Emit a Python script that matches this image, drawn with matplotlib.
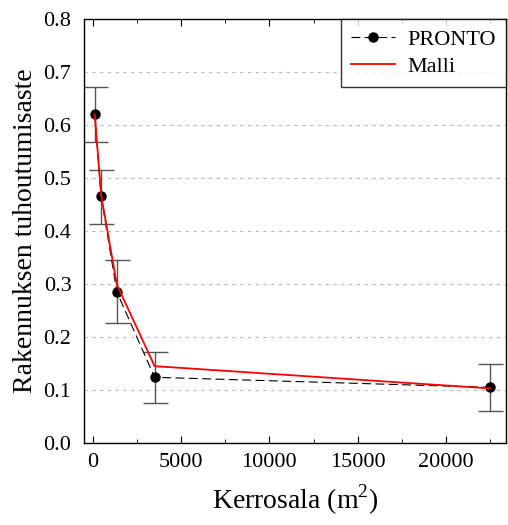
import matplotlib
matplotlib.use("Agg")
import matplotlib.pyplot as plt
from matplotlib.ticker import MultipleLocator

plt.rcParams['font.family'] = ['Liberation Serif', 'DejaVu Serif']
plt.rcParams['mathtext.fontset'] = 'custom'
plt.rcParams['mathtext.rm'] = 'Liberation Serif'

area = [110, 470, 1360, 3500, 22500]
pronto = [0.620, 0.466, 0.285, 0.124, 0.105]
err_low = [0.052, 0.053, 0.059, 0.048, 0.044]
err_high = [0.051, 0.050, 0.060, 0.047, 0.044]
model = [0.620, 0.468, 0.299, 0.145, 0.103]

fig = plt.figure(figsize=(5.08, 5.25), dpi=100)
ax = fig.add_axes([84/508, 1-443/525, (506-84)/508, (443-19)/525])

ax.errorbar(area, pronto, yerr=[err_low, err_high], fmt='none', ecolor='#555555',
            elinewidth=1.0, capsize=9, capthick=1.0, zorder=2)
ax.plot(area, pronto, color='black', linestyle=(0, (8, 4)), linewidth=0.8,
        marker='o', markersize=6.5, label='PRONTO', zorder=3)
ax.plot(area, model, color='red', linewidth=1.3, label='Malli', zorder=4)

ax.set_xlim(-500, 23400)
ax.set_ylim(0, 0.8)
ax.xaxis.set_major_locator(MultipleLocator(5000))
ax.xaxis.set_minor_locator(MultipleLocator(2500))
ax.yaxis.set_major_locator(MultipleLocator(0.1))
ax.yaxis.set_major_formatter(matplotlib.ticker.FormatStrFormatter('%.1f'))
ax.tick_params(axis='x', which='both', direction='in', top=True, bottom=True, labelsize=16, pad=7)
ax.tick_params(axis='x', which='major', length=5)
ax.tick_params(axis='x', which='minor', length=3)
ax.tick_params(axis='y', which='both', length=0, labelsize=16, pad=9)
ax.grid(axis='y', color='#bbbbbb', linestyle=(0, (3, 4)), linewidth=0.8)
for s in ax.spines.values():
    s.set_linewidth(1.0)

ax.set_xlabel(r'Kerrosala (m$^2$)', fontsize=20, labelpad=8)
ax.set_ylabel('Rakennuksen tuhoutumisaste', fontsize=20, labelpad=4)

leg = ax.legend(loc='upper right', fontsize=16, frameon=True, fancybox=False,
                edgecolor='black', borderaxespad=0, handlelength=2.0,
                handletextpad=0.55, labelspacing=0.3, borderpad=0.45)
leg.get_frame().set_linewidth(1.0)

fig.savefig('out.png', dpi=100)
